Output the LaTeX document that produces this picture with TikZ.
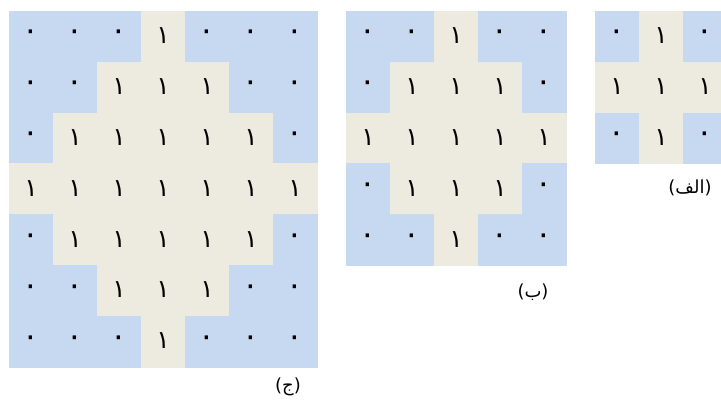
\documentclass[tikz,border=0pt]{standalone}
\usepackage{fontspec}
\newfontfamily\arabicfont[Script=Arabic]{DejaVu Sans}
\TeXXeTstate=1
\definecolor{cblue}{RGB}{198,217,240}
\definecolor{cbeige}{RGB}{237,235,224}
\newcommand{\pone}{\raisebox{1.5pt}{۱}}
\newcommand{\pzero}{\raisebox{1.5pt}{\fontsize{31}{31}\selectfont ۰}}
\tikzset{
  cellbase/.style={rectangle, minimum width=44pt, minimum height=50.86pt, inner sep=0pt, font=\arabicfont\fontsize{25}{25}\selectfont, text=black},
  one/.style={cellbase, fill=cbeige, draw=cbeige, line width=0.2pt},
  zero/.style={cellbase, fill=cblue, draw=cblue, line width=0.2pt},
  caption/.style={font=\arabicfont\fontsize{18}{18}\selectfont, inner sep=0pt}
}
\begin{document}
\begin{tikzpicture}[x=1pt,y=-1pt]
\useasboundingbox (0,0) rectangle (721,405);
\clip (0,0) rectangle (721,405);
% grid C (7x7)
\foreach \i in {0,...,6}{
  \foreach \j in {0,...,6}{
    \pgfmathtruncatemacro\d{abs(\i-3)+abs(\j-3)}
    \ifnum\d<4
      \node[one] (c\i\j) at ({31+44*\j},{36.43+50.86*\i}) {\pone};
    \else
      \node[zero] (c\i\j) at ({31+44*\j},{36.43+50.86*\i}) {\pzero};
    \fi
  }
}
% grid B (5x5)
\foreach \i in {0,...,4}{
  \foreach \j in {0,...,4}{
    \pgfmathtruncatemacro\d{abs(\i-2)+abs(\j-2)}
    \ifnum\d<3
      \node[one] (b\i\j) at ({368+44*\j},{36.43+50.86*\i}) {\pone};
    \else
      \node[zero] (b\i\j) at ({368+44*\j},{36.43+50.86*\i}) {\pzero};
    \fi
  }
}
% grid A (3x3)
\foreach \i in {0,...,2}{
  \foreach \j in {0,...,2}{
    \pgfmathtruncatemacro\d{abs(\i-1)+abs(\j-1)}
    \ifnum\d<2
      \node[one] (a\i\j) at ({617+44*\j},{36.43+50.86*\i}) {\pone};
    \else
      \node[zero] (a\i\j) at ({617+44*\j},{36.43+50.86*\i}) {\pzero};
    \fi
  }
}
\node[caption] (capC) at (288,387) {\beginR(ج)\endR};
\node[caption] (capB) at (533,292) {\beginR(ب)\endR};
\node[caption] (capA) at (690,188) {\beginR(الف)\endR};
\end{tikzpicture}
\end{document}
